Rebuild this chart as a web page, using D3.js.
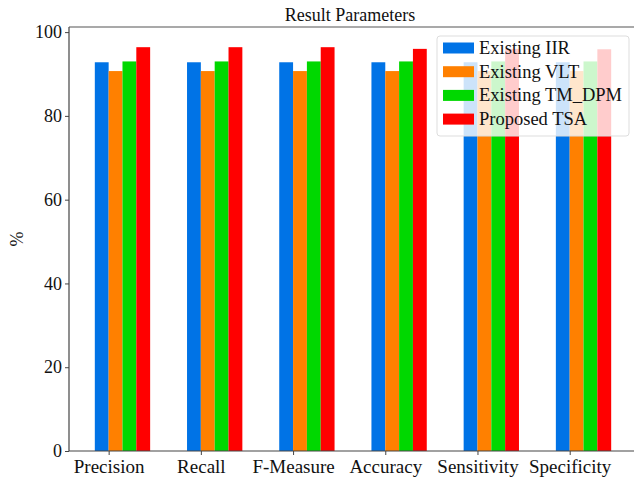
<!DOCTYPE html>
<html>
<head>
<meta charset="utf-8">
<script src="https://cdn.jsdelivr.net/npm/d3@7"></script>
<style>
  body { margin: 0; background: #fff; }
  svg { display: block; font-family: "Liberation Serif", "DejaVu Serif", serif; }
</style>
</head>
<body>
<svg id="chart" width="634" height="482"></svg>
<script>
// Result parameters - grouped bar chart

const categories = ['Precision', 'Recall', 'F-Measure', 'Accuracy', 'Sensitivity', 'Specificity'];
const seriesNames = ['Existing IIR', 'Existing VLT', 'Existing TM_DPM', 'Proposed TSA'];
const seriesColors = ['#0073E6', '#FF8000', '#00D800', '#FF0000'];

const iirValues = [92.8, 92.8, 92.8, 92.8, 92.8, 92.8];
const vltValues = [90.7, 90.7, 90.7, 90.7, 90.7, 90.7];
const tmdpmValues = [93.0, 93.0, 93.0, 93.0, 93.0, 93.0];
const tsaValues = [96.4, 96.4, 96.4, 96.0, 96.0, 95.9];

const yTicks = [0, 20, 40, 60, 80, 100];

const series = [iirValues, vltValues, tmdpmValues, tsaValues];

const svg = d3.select('#chart');

const plot = { left: 69, right: 637, top: 27, bottom: 451 };
const barW = 0.15;

// matplotlib style: blue bar centred on the group index, others stepped by barW
const dataMin = -barW / 2;
const dataMax = categories.length - 1 + 3 * barW + barW / 2;
const pad = (dataMax - dataMin) * 0.05;

const x = d3.scaleLinear()
    .domain([dataMin - pad, dataMax + pad])
    .range([plot.left, plot.right]);

const yMax = d3.max(series.flat()) * 1.05;
const y = d3.scaleLinear()
    .domain([0, yMax])
    .range([plot.bottom, plot.top]);

// Bars
series.forEach((vals, s) => {
    svg.append('g')
        .selectAll('rect')
        .data(vals)
        .enter()
        .append('rect')
        .attr('x', (d, i) => x(i + s * barW - barW / 2))
        .attr('width', x(barW) - x(0))
        .attr('y', d => y(d))
        .attr('height', d => y(0) - y(d))
        .style('fill', seriesColors[s]);
});

// Axes
const xAxis = d3.axisBottom(x)
    .tickValues(categories.map((c, i) => i + barW / 2))
    .tickFormat((d, i) => categories[i])
    .tickSize(4)
    .tickPadding(5);

const yAxis = d3.axisLeft(y)
    .tickValues(yTicks)
    .tickSize(4)
    .tickPadding(3);

const gx = svg.append('g')
    .attr('transform', `translate(0,${plot.bottom})`)
    .call(xAxis);

const gy = svg.append('g')
    .attr('transform', `translate(${plot.left},0)`)
    .call(yAxis);

[gx, gy].forEach((g, k) => {
    g.select('.domain').remove();
    g.selectAll('line').style('stroke', '#444');
    g.selectAll('text')
        .style('font-family', '"Liberation Serif", serif')
        .style('font-size', k === 0 ? '19px' : '18px')
        .style('fill', '#111');
});

// Spines
const spines = [
    [plot.left, plot.top, plot.left, plot.bottom, '#444'],
    [plot.left, plot.bottom, plot.right, plot.bottom, '#444'],
    [plot.left, plot.top, plot.right, plot.top, '#555'],
    [plot.right, plot.top, plot.right, plot.bottom, '#555']
];
spines.forEach(s => {
    svg.append('line')
        .attr('x1', s[0]).attr('y1', s[1])
        .attr('x2', s[2]).attr('y2', s[3])
        .style('stroke', s[4]).style('stroke-width', 1.2);
});

// Title
svg.append('text')
    .attr('x', (plot.left + plot.right) / 2 - 3)
    .attr('y', 21)
    .attr('text-anchor', 'middle')
    .style('font-size', '18px')
    .style('fill', '#111')
    .text('Result Parameters');

// Y label
svg.append('text')
    .attr('transform', `translate(23,${(plot.top + plot.bottom) / 2}) rotate(-90)`)
    .attr('text-anchor', 'middle')
    .style('font-size', '18px')
    .style('fill', '#111')
    .text('%');

// Legend
const legend = svg.append('g')
    .attr('transform', 'translate(437,36)');

legend.append('rect')
    .attr('width', 192)
    .attr('height', 100)
    .attr('rx', 3)
    .style('fill', '#fff')
    .style('fill-opacity', 0.8)
    .style('stroke', '#ddd')
    .style('stroke-width', 1);

const items = legend.selectAll('.legend-item')
    .data(seriesNames)
    .enter()
    .append('g')
    .attr('class', 'legend-item')
    .attr('transform', (d, i) => `translate(6,${12 + i * 23.7})`);

items.append('rect')
    .attr('x', 0)
    .attr('y', -5.5)
    .attr('width', 31)
    .attr('height', 11)
    .style('fill', (d, i) => seriesColors[i]);

items.append('text')
    .attr('x', 36)
    .attr('y', 6)
    .style('font-size', '18.5px')
    .style('fill', '#111')
    .text(d => d);
</script>
</body>
</html>
